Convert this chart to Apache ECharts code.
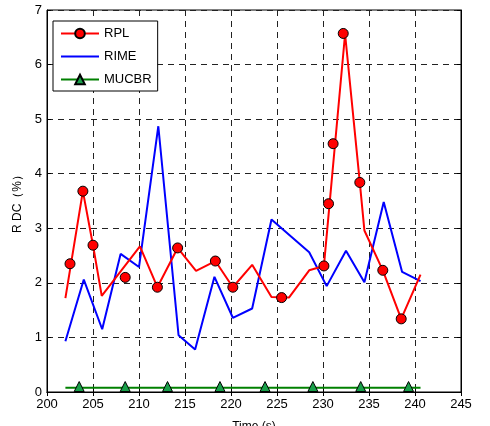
<!DOCTYPE html>
<html>
<head>
<meta charset="utf-8">
<script src="https://cdn.jsdelivr.net/npm/echarts@6/dist/echarts.min.js"></script>
<style>
  html,body{margin:0;padding:0;background:#fff;}
  #chart{width:490px;height:426px;}
</style>
</head>
<body>
<div id="chart"></div>
<script>
// RDC over time, three schemes
var rplLine = [[202,1.72],[203.9,3.68],[205,2.69],[205.95,1.76],[210.1,2.67],[212,1.92],[214.2,2.64],[216.2,2.22],
  [218.3,2.40],[220.2,1.92],[222.3,2.33],[224.4,1.74],[226.3,1.73],[228.5,2.23],[230.1,2.31],[232.4,6.56],
  [234.0,3.84],[234.5,2.96],[236.5,2.23],[238.5,1.34],[240.6,2.15]];
var rplMarks = [[202.5,2.35],[203.9,3.68],[205,2.69],[208.5,2.10],[212,1.92],[214.2,2.64],[218.3,2.40],[220.2,1.92],
  [225.5,1.73],[230.1,2.31],[230.6,3.45],[231.1,4.55],[232.2,6.57],[234,3.84],[236.5,2.23],[238.5,1.34]];
var rimeLine = [[202,0.93],[204,2.06],[206,1.15],[208,2.53],[210,2.29],[212.1,4.87],[214.3,1.04],[216.1,0.78],
  [218.2,2.11],[220.2,1.36],[222.3,1.53],[224.4,3.16],[228.5,2.56],[230.4,1.94],[232.5,2.59],[234.5,2.01],
  [236.6,3.48],[238.6,2.20],[240.6,2.03]];
var mucbrLine = [[202,0.08],[240.6,0.08]];
var mucbrMarks = [[203.5,0.1],[208.5,0.1],[213.1,0.1],[218.8,0.1],[223.7,0.1],[228.9,0.1],[234.1,0.1],[239.3,0.1]];
var xTicks = [200,245,5];
var yTicks = [0,7,1];

var font = 'Liberation Sans, Arial, sans-serif';
var dash = {show:true, lineStyle:{color:'#222', type:[6,5], width:1}};

var chart = echarts.init(document.getElementById('chart'));
chart.setOption({
  animation:false,
  backgroundColor:'#fff',
  grid:{left:47, right:29, top:10, bottom:34, outerBoundsMode:'none', containLabel:false,
    show:true, borderColor:'#000', borderWidth:1},
  legend:{
    data:['RPL', {name:'RIME', icon:'path://M0,0L19,0L19,1L0,1Z'}, 'MUCBR'],
    orient:'vertical', left:53, top:21,
    itemWidth:38, itemHeight:12, itemGap:10,
    padding:[6,6,5,7],
    borderColor:'#000', borderWidth:1, backgroundColor:'#fff',
    textStyle:{fontSize:13, color:'#000', fontFamily:font}
  },
  xAxis:[{
    type:'value', min:xTicks[0], max:xTicks[1], interval:xTicks[2],
    name:'Time (s)', nameLocation:'middle', nameGap:29,
    nameTextStyle:{fontSize:12, color:'#000', fontFamily:font},
    axisLine:{lineStyle:{color:'#000'}},
    axisTick:{inside:true, length:4, lineStyle:{color:'#000'}},
    axisLabel:{fontSize:13, color:'#000', fontFamily:font, margin:6},
    splitLine:dash
  },{
    type:'value', position:'top', min:xTicks[0], max:xTicks[1], interval:xTicks[2],
    axisLine:{lineStyle:{color:'#000'}},
    axisTick:{inside:true, length:4, lineStyle:{color:'#000'}},
    axisLabel:{show:false}, splitLine:{show:false}
  }],
  yAxis:[{
    type:'value', min:yTicks[0], max:yTicks[1], interval:yTicks[2],
    name:'R DC（%）', nameLocation:'middle', nameGap:11,
    nameTextStyle:{fontSize:12, color:'#000', fontFamily:font},
    axisLine:{show:true, lineStyle:{color:'#000'}},
    axisTick:{show:true, inside:true, length:4, lineStyle:{color:'#000'}},
    axisLabel:{fontSize:13, color:'#000', fontFamily:font, margin:5},
    splitLine:dash
  },{
    type:'value', position:'right', min:yTicks[0], max:yTicks[1], interval:yTicks[2],
    axisLine:{show:true, lineStyle:{color:'#000'}},
    axisTick:{show:true, inside:true, length:4, lineStyle:{color:'#000'}},
    axisLabel:{show:false}, splitLine:{show:false}
  }],
  series:[
    {name:'RIME', type:'line', data:rimeLine, symbol:'none',
      lineStyle:{color:'#0000ff', width:2}, itemStyle:{color:'#0000ff'}, z:2},
    {name:'MUCBR', type:'line', data:mucbrLine, symbol:'triangle', symbolSize:11, showSymbol:false,
      lineStyle:{color:'#008000', width:2}, itemStyle:{color:'#19a04a', borderColor:'#000', borderWidth:1}, z:2},
    {name:'MUCBR pts', type:'scatter', data:mucbrMarks, symbol:'triangle', symbolSize:10,
      itemStyle:{color:'#19a04a', borderColor:'#000', borderWidth:1, opacity:1}, z:4},
    {name:'RPL', type:'line', data:rplLine, symbol:'circle', symbolSize:12, showSymbol:false,
      lineStyle:{color:'#ff0000', width:2}, itemStyle:{color:'#ff0000', borderColor:'#000', borderWidth:1}, z:3},
    {name:'RPL pts', type:'scatter', data:rplMarks, symbol:'circle', symbolSize:10,
      itemStyle:{color:'#ff0000', borderColor:'#000', borderWidth:1, opacity:1}, z:5}
  ]
});
</script>
</body>
</html>
